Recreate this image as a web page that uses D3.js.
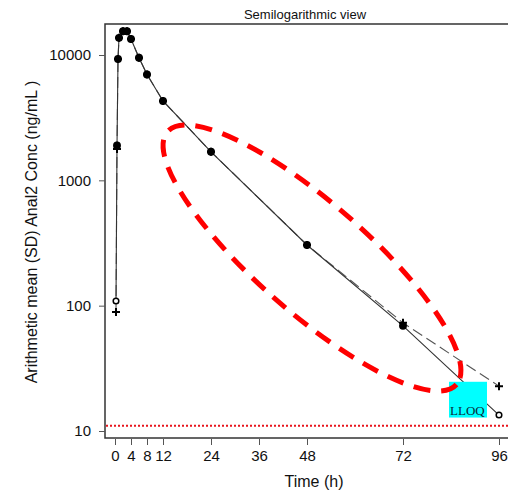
<!DOCTYPE html>
<html>
<head>
<meta charset="utf-8">
<script src="https://cdn.jsdelivr.net/npm/d3@7"></script>
<style>
  html, body { margin: 0; padding: 0; background: #fff; }
  svg { display: block; font-family: "Liberation Sans", Arial, sans-serif; }
</style>
</head>
<body>
<svg id="chart" width="508" height="493"></svg>
<script>
// Sampling times (h) and mean concentrations (ng/mL) for the two profiles
const times = [0.25, 0.5, 0.75, 1, 2, 3, 4, 6, 8, 12, 24, 48, 72, 96];
const concCircle = [109, 1900, 9300, 13700, 15500, 15500, 13400, 9500, 7000, 4300, 1690, 305, 69, 13.4];
const concPlus   = [89, 1780, 9300, 13700, 15500, 15500, 13400, 9500, 7000, 4300, 1690, 305, 73, 22.8];

// Axis ticks
const xTicks = [0, 4, 8, 12, 24, 36, 48, 72, 96];
const yTicks = [10, 100, 1000, 10000];

// Lower limit of quantification
const lloq = 11;
// LLOQ tag box (time range, concentration range)
const lloqBoxTime = [83.5, 93];
const lloqBoxConc = [12.8, 24.7];
// Highlighted region of the terminal phase (centre in data units)
const highlightCentre = { time: 49.25, conc: 240 };

const svg = d3.select("#chart");

const x = d3.scaleLinear().domain([0, 96]).range([115, 499]);
const y = d3.scaleLog().domain([10, 10000]).range([431, 55]);

const box = { left: 105, top: 24, right: 520, bottom: 438 };

// Title
svg.append("text")
  .attr("x", 305).attr("y", 19)
  .attr("text-anchor", "middle")
  .attr("font-size", 13)
  .attr("fill", "#111")
  .text("Semilogarithmic view");

// LLOQ reference line
svg.append("line")
  .attr("x1", box.left + 1).attr("x2", 508)
  .attr("y1", y(lloq)).attr("y2", y(lloq))
  .attr("stroke", "#e8141c")
  .attr("stroke-width", 2)
  .attr("stroke-dasharray", "2,2");

// Profile lines
const line = (vals) => d3.line()
  .x((d, i) => x(times[i]))
  .y(d => y(d))(vals);

svg.append("path")
  .attr("d", line(concPlus))
  .attr("fill", "none")
  .attr("stroke", "#555")
  .attr("stroke-width", 1.1)
  .attr("stroke-dasharray", "11,5");

svg.append("path")
  .attr("d", line(concCircle))
  .attr("fill", "none")
  .attr("stroke", "#333")
  .attr("stroke-width", 1.1);

// Markers: solid dot where both profiles coincide, open circle otherwise
const pts = times.map((t, i) => ({ t, c: concCircle[i], p: concPlus[i] }));
const coincide = d => Math.abs(Math.log10(d.c / d.p)) < 0.04;

svg.append("g").selectAll("circle")
  .data(pts)
  .join("circle")
  .attr("cx", d => x(d.t))
  .attr("cy", d => y(d.c))
  .attr("r", d => coincide(d) ? 3.2 : 2.8)
  .attr("fill", d => coincide(d) ? "#000" : "#fff")
  .attr("stroke", "#000")
  .attr("stroke-width", 1.5);

svg.append("g").selectAll("path")
  .data(pts)
  .join("path")
  .attr("d", d => {
    const cx = x(d.t), cy = y(d.p), s = 4;
    return `M${cx - s},${cy}H${cx + s}M${cx},${cy - s}V${cy + s}`;
  })
  .attr("stroke", "#000")
  .attr("stroke-width", 2)
  .attr("fill", "none");

// LLOQ tag
const bx0 = x(lloqBoxTime[0]), bx1 = x(lloqBoxTime[1]);
const by0 = y(lloqBoxConc[1]), by1 = y(lloqBoxConc[0]);
svg.append("rect")
  .attr("x", bx0).attr("y", by0)
  .attr("width", bx1 - bx0).attr("height", by1 - by0)
  .attr("fill", "#00ffff");
svg.append("text")
  .attr("x", bx0 + 1).attr("y", by1 - 2.5)
  .attr("font-family", "'Liberation Serif', 'Times New Roman', serif")
  .attr("font-size", 13)
  .attr("fill", "#0a2a3a")
  .text("LLOQ");

// Highlight ellipse around the elimination phase
svg.append("ellipse")
  .attr("transform", `translate(${x(highlightCentre.time)},${y(highlightCentre.conc)}) rotate(41.2)`)
  .attr("rx", 192).attr("ry", 55)
  .attr("fill", "none")
  .attr("stroke", "#ff0000")
  .attr("stroke-width", 5)
  .attr("stroke-dasharray", "17,11");

// Plot frame
svg.append("rect")
  .attr("x", box.left).attr("y", box.top)
  .attr("width", box.right - box.left).attr("height", box.bottom - box.top)
  .attr("fill", "none")
  .attr("stroke", "#333")
  .attr("stroke-width", 1.5);

// X axis
const xAxis = d3.axisBottom(x).tickValues(xTicks).tickSize(6).tickPadding(5).tickFormat(d3.format("d"));
const gx = svg.append("g").attr("transform", `translate(0,${box.bottom + 1})`).call(xAxis);
gx.select(".domain").remove();
gx.selectAll("line").attr("stroke", "#555");
gx.selectAll("text").attr("font-size", 15).attr("fill", "#111")
  .attr("font-family", "'Liberation Sans', Arial, sans-serif");

// Y axis
const yAxis = d3.axisLeft(y).tickValues(yTicks).tickSize(6).tickPadding(8).tickFormat(d3.format("d"));
const gy = svg.append("g").attr("transform", `translate(${box.left},0)`).call(yAxis);
gy.select(".domain").remove();
gy.selectAll("line").attr("stroke", "#555");
gy.selectAll("text").attr("font-size", 15).attr("fill", "#111")
  .attr("font-family", "'Liberation Sans', Arial, sans-serif");

// Axis titles
svg.append("text")
  .attr("x", 314).attr("y", 487)
  .attr("text-anchor", "middle")
  .attr("font-size", 16)
  .attr("fill", "#111")
  .text("Time (h)");

svg.append("text")
  .attr("transform", "translate(37,232) rotate(-90)")
  .attr("text-anchor", "middle")
  .attr("font-size", 16)
  .attr("fill", "#111")
  .text("Arithmetic mean (SD) Anal2 Conc (ng/mL )");
</script>
</body>
</html>
